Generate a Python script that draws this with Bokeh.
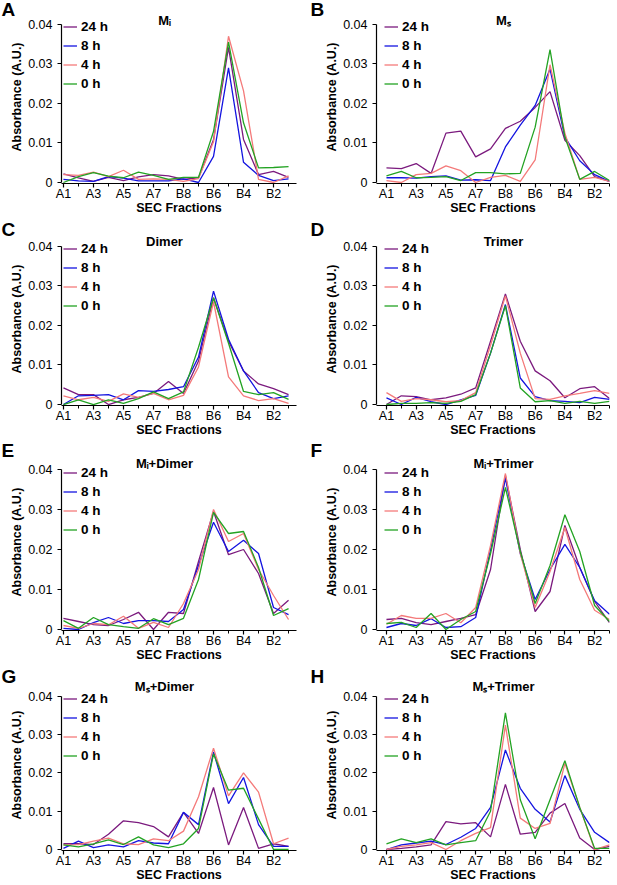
from bokeh.plotting import figure
from bokeh.layouts import column, row
from bokeh.models import Range1d, FixedTicker, Label, Legend, LegendItem
from bokeh.embed import file_html
from bokeh.resources import INLINE

# ---------------- data ----------------
fractions = ["A1", "A2", "A3", "A4", "A5", "A6", "A7", "A8",
             "B8", "B7", "B6", "B5", "B4", "B3", "B2", "B1"]
x_index = list(range(len(fractions)))
tick_positions = [0, 2, 4, 6, 8, 10, 12, 14]
tick_labels = [fractions[i] for i in tick_positions]
y_ticks = [0, 0.01, 0.02, 0.03, 0.04]
y_tick_labels = ["0", "0.01", "0.02", "0.03", "0.04"]

series_names = ["24 h", "8 h", "4 h", "0 h"]
series_colors = ["#7B1A7E", "#1414E0", "#F47A7A", "#23A323"]

panel_letters = ["A", "B", "C", "D", "E", "F", "G", "H"]
panel_titles = ["M\u1d62", "M\u209b", "Dimer", "Trimer",
                "M\u1d62+Dimer", "M\u1d62+Trimer", "M\u209b+Dimer", "M\u209b+Trimer"]

Mi_24h = [0.0022, 0.0012, 0.0003, 0.0013, 0.0005, 0.0014, 0.0020, 0.0017, 0.0008, 0.0012, 0.0108, 0.0342, 0.0109, 0.0020, 0.0028, 0.0013]
Mi_8h = [0.0008, 0.0004, 0.0003, 0.0015, 0.0011, 0.0004, 0.0004, 0.0004, 0.0009, 0.0000, 0.0066, 0.0290, 0.0051, 0.0018, 0.0005, 0.0009]
Mi_4h = [0.0020, 0.0018, 0.0026, 0.0015, 0.0031, 0.0008, 0.0009, 0.0008, 0.0003, 0.0010, 0.0103, 0.0370, 0.0232, 0.0008, 0.0000, 0.0017]
Mi_0h = [0.0000, 0.0015, 0.0025, 0.0016, 0.0012, 0.0026, 0.0018, 0.0008, 0.0013, 0.0013, 0.0129, 0.0355, 0.0151, 0.0037, 0.0038, 0.0040]

Ms_24h = [0.0037, 0.0035, 0.0048, 0.0023, 0.0125, 0.0130, 0.0065, 0.0085, 0.0137, 0.0155, 0.0190, 0.0230, 0.0107, 0.0068, 0.0015, 0.0003]
Ms_8h = [0.0012, 0.0012, 0.0011, 0.0015, 0.0017, 0.0006, 0.0007, 0.0005, 0.0090, 0.0145, 0.0195, 0.0287, 0.0115, 0.0055, 0.0020, 0.0003]
Ms_4h = [0.0005, 0.0000, 0.0020, 0.0023, 0.0042, 0.0030, 0.0000, 0.0013, 0.0018, 0.0003, 0.0057, 0.0298, 0.0125, 0.0008, 0.0013, 0.0003]
Ms_0h = [0.0017, 0.0028, 0.0012, 0.0013, 0.0015, 0.0005, 0.0025, 0.0025, 0.0022, 0.0023, 0.0140, 0.0336, 0.0115, 0.0008, 0.0028, 0.0005]

Dimer_24h = [0.0042, 0.0025, 0.0025, 0.0000, 0.0012, 0.0018, 0.0028, 0.0058, 0.0028, 0.0110, 0.0270, 0.0160, 0.0085, 0.0052, 0.0040, 0.0025]
Dimer_8h = [0.0000, 0.0022, 0.0023, 0.0025, 0.0012, 0.0035, 0.0033, 0.0038, 0.0045, 0.0120, 0.0287, 0.0165, 0.0085, 0.0030, 0.0015, 0.0022]
Dimer_4h = [0.0022, 0.0012, 0.0018, 0.0008, 0.0027, 0.0018, 0.0028, 0.0012, 0.0023, 0.0095, 0.0260, 0.0070, 0.0022, 0.0010, 0.0015, 0.0003]
Dimer_0h = [0.0000, 0.0012, 0.0000, 0.0012, 0.0003, 0.0015, 0.0032, 0.0015, 0.0032, 0.0145, 0.0270, 0.0155, 0.0033, 0.0025, 0.0030, 0.0013]

Trimer_24h = [0.0000, 0.0022, 0.0020, 0.0012, 0.0017, 0.0026, 0.0042, 0.0160, 0.0280, 0.0160, 0.0085, 0.0060, 0.0017, 0.0040, 0.0045, 0.0015]
Trimer_8h = [0.0017, 0.0000, 0.0018, 0.0007, 0.0000, 0.0012, 0.0023, 0.0130, 0.0253, 0.0067, 0.0020, 0.0010, 0.0008, 0.0005, 0.0018, 0.0013]
Trimer_4h = [0.0030, 0.0008, 0.0015, 0.0012, 0.0007, 0.0010, 0.0030, 0.0150, 0.0275, 0.0130, 0.0015, 0.0013, 0.0022, 0.0028, 0.0035, 0.0028]
Trimer_0h = [0.0000, 0.0003, 0.0003, 0.0005, 0.0003, 0.0008, 0.0025, 0.0130, 0.0250, 0.0042, 0.0007, 0.0010, 0.0003, 0.0008, 0.0003, 0.0008]

MiDimer_24h = [0.0028, 0.0020, 0.0012, 0.0010, 0.0025, 0.0043, 0.0000, 0.0043, 0.0040, 0.0170, 0.0295, 0.0187, 0.0200, 0.0140, 0.0040, 0.0073]
MiDimer_8h = [0.0003, 0.0000, 0.0017, 0.0030, 0.0015, 0.0022, 0.0022, 0.0020, 0.0050, 0.0160, 0.0268, 0.0195, 0.0223, 0.0190, 0.0055, 0.0037]
MiDimer_4h = [0.0010, 0.0003, 0.0015, 0.0012, 0.0033, 0.0003, 0.0018, 0.0005, 0.0065, 0.0150, 0.0300, 0.0220, 0.0240, 0.0150, 0.0085, 0.0025]
MiDimer_0h = [0.0022, 0.0003, 0.0030, 0.0012, 0.0007, 0.0003, 0.0027, 0.0012, 0.0028, 0.0125, 0.0293, 0.0240, 0.0245, 0.0155, 0.0035, 0.0052]

MiTrimer_24h = [0.0025, 0.0028, 0.0017, 0.0012, 0.0020, 0.0028, 0.0037, 0.0150, 0.0385, 0.0200, 0.0045, 0.0095, 0.0260, 0.0155, 0.0070, 0.0017]
MiTrimer_8h = [0.0005, 0.0015, 0.0010, 0.0027, 0.0005, 0.0007, 0.0030, 0.0200, 0.0378, 0.0190, 0.0075, 0.0150, 0.0213, 0.0155, 0.0072, 0.0038]
MiTrimer_4h = [0.0013, 0.0035, 0.0028, 0.0028, 0.0040, 0.0017, 0.0055, 0.0210, 0.0390, 0.0190, 0.0055, 0.0145, 0.0255, 0.0125, 0.0048, 0.0025]
MiTrimer_0h = [0.0015, 0.0018, 0.0005, 0.0040, 0.0000, 0.0025, 0.0045, 0.0190, 0.0355, 0.0195, 0.0065, 0.0160, 0.0287, 0.0195, 0.0060, 0.0020]

MsDimer_24h = [0.0015, 0.0015, 0.0013, 0.0040, 0.0075, 0.0070, 0.0060, 0.0033, 0.0097, 0.0042, 0.0162, 0.0012, 0.0110, 0.0003, 0.0015, 0.0008]
MsDimer_8h = [0.0003, 0.0022, 0.0005, 0.0012, 0.0007, 0.0023, 0.0017, 0.0015, 0.0097, 0.0065, 0.0255, 0.0120, 0.0188, 0.0065, 0.0008, 0.0008]
MsDimer_4h = [0.0012, 0.0013, 0.0022, 0.0030, 0.0015, 0.0013, 0.0028, 0.0023, 0.0048, 0.0138, 0.0265, 0.0140, 0.0200, 0.0150, 0.0015, 0.0030]
MsDimer_0h = [0.0012, 0.0007, 0.0015, 0.0025, 0.0013, 0.0033, 0.0012, 0.0005, 0.0015, 0.0055, 0.0250, 0.0155, 0.0160, 0.0080, 0.0000, 0.0000]

MsTrimer_24h = [0.0000, 0.0003, 0.0007, 0.0012, 0.0073, 0.0067, 0.0070, 0.0033, 0.0170, 0.0040, 0.0045, 0.0095, 0.0120, 0.0030, 0.0000, 0.0008]
MsTrimer_8h = [0.0000, 0.0012, 0.0017, 0.0022, 0.0013, 0.0032, 0.0055, 0.0110, 0.0260, 0.0160, 0.0105, 0.0072, 0.0193, 0.0105, 0.0045, 0.0018]
MsTrimer_4h = [0.0000, 0.0008, 0.0012, 0.0018, 0.0000, 0.0023, 0.0042, 0.0057, 0.0325, 0.0082, 0.0055, 0.0068, 0.0225, 0.0110, 0.0000, 0.0012]
MsTrimer_0h = [0.0015, 0.0028, 0.0018, 0.0028, 0.0012, 0.0018, 0.0023, 0.0100, 0.0357, 0.0130, 0.0028, 0.0130, 0.0232, 0.0110, 0.0003, 0.0003]

panel_series = [
    [Mi_24h, Mi_8h, Mi_4h, Mi_0h],
    [Ms_24h, Ms_8h, Ms_4h, Ms_0h],
    [Dimer_24h, Dimer_8h, Dimer_4h, Dimer_0h],
    [Trimer_24h, Trimer_8h, Trimer_4h, Trimer_0h],
    [MiDimer_24h, MiDimer_8h, MiDimer_4h, MiDimer_0h],
    [MiTrimer_24h, MiTrimer_8h, MiTrimer_4h, MiTrimer_0h],
    [MsDimer_24h, MsDimer_8h, MsDimer_4h, MsDimer_0h],
    [MsTrimer_24h, MsTrimer_8h, MsTrimer_4h, MsTrimer_0h],
]

# ---------------- layout / styling ----------------
FONT = "Liberation Sans"
ROW_EXT = [14, 14, 16, 17]          # frame px above the 0.04 line
ROW_T = [10, 15, 14, 14]            # top border per row
ROW_P0 = [159, 159, 160, 154]       # px from 0 to 0.04 per row
ROW_B = [33, 33, 35, 33]            # bottom border per row
ROW_LETTER_STANDOFF = [-19, -14, -14, -15]
TITLE_DY = [3.5, 4, 6, 9]           # panel title centre above the 0.04 line
COL_W = [305, 311]
COL_BL = [61, 71]
COL_FW = [235, 233]
COL_XR = [(-0.13, 15.53), (-0.67, 15.0)]
COL_TITLE_X = [103, 127]
COL_LETTER_OFF = [-60, -66]
COL_LEG_X = [2, 8]
LEG_DY = -68.5


def make_panel(k):
    c = k % 2
    r = k // 2
    T, P0, B, EXT = ROW_T[r], ROW_P0[r], ROW_B[r], ROW_EXT[r]
    ppu = P0 / 0.04
    FH = P0 + 1 + EXT
    H = T + FH + B
    W = COL_W[c]
    BL = COL_BL[c]
    BR = W - BL - COL_FW[c]
    p = figure(width=W, height=H,
               x_range=Range1d(*COL_XR[c]),
               y_range=Range1d(-1.0 / ppu, 0.04 + EXT / ppu),
               output_backend="svg", toolbar_location=None,
               min_border_left=BL, min_border_right=BR,
               min_border_top=T, min_border_bottom=B)
    p.outline_line_color = None
    p.xgrid.visible = False
    p.ygrid.visible = False
    p.background_fill_color = "white"
    p.border_fill_color = "white"

    # panel letter as the figure title, pushed into the top-left corner
    p.title.text = panel_letters[k]
    p.title.align = "left"
    p.title.offset = COL_LETTER_OFF[c]
    p.title.standoff = ROW_LETTER_STANDOFF[r]
    p.title.text_font = FONT
    p.title.text_font_style = "bold"
    p.title.text_font_size = "19px"
    p.title.text_color = "black"

    xa = p.xaxis[0]
    ya = p.yaxis[0]
    xa.ticker = FixedTicker(ticks=tick_positions, minor_ticks=x_index)
    xa.major_label_overrides = dict(zip(tick_positions, tick_labels))
    ya.ticker = FixedTicker(ticks=y_ticks)
    ya.major_label_overrides = dict(zip(y_ticks, y_tick_labels))
    ya.bounds = (0, 0.04)
    for ax in (xa, ya):
        ax.axis_line_color = "black"
        ax.axis_line_width = 1.2
        ax.major_tick_line_color = "black"
        ax.major_tick_line_width = 1.2
        ax.minor_tick_line_color = "black"
        ax.minor_tick_line_width = 1.0
        ax.major_tick_in = 0
        ax.major_tick_out = 4
        ax.minor_tick_in = 0
        ax.major_label_text_font = FONT
        ax.major_label_text_font_size = "12.5px"
        ax.major_label_text_color = "black"
        ax.axis_label_text_font = FONT
        ax.axis_label_text_font_style = "bold"
        ax.axis_label_text_font_size = "12.5px"
        ax.axis_label_text_color = "black"
    xa.minor_tick_out = 3
    ya.minor_tick_out = 0
    xa.major_label_standoff = -1
    xa.axis_label_standoff = -3
    ya.major_label_standoff = 5
    ya.axis_label_standoff = 1
    xa.axis_label = "SEC Fractions"
    ya.axis_label = "Absorbance (A.U.)"

    items = []
    for name, color, vals in zip(series_names, series_colors, panel_series[k]):
        rr = p.line(x_index, vals, line_color=color, line_width=1.3)
        items.append(LegendItem(label=name, renderers=[rr]))
    y04 = P0 + 1
    legend = Legend(items=items, location=(COL_LEG_X[c], y04 + LEG_DY),
                    label_text_font=FONT, label_text_font_style="bold",
                    label_text_font_size="13.5px", label_text_color="black",
                    glyph_width=14, glyph_height=17, label_height=17,
                    label_standoff=4, spacing=2, padding=0, margin=0,
                    border_line_color=None, background_fill_alpha=0)
    p.add_layout(legend)

    p.add_layout(Label(x=COL_TITLE_X[c], y=y04 + TITLE_DY[r], x_units="screen", y_units="screen",
                       text=panel_titles[k], text_align="center", text_baseline="middle",
                       text_font=FONT, text_font_style="bold", text_font_size="13px",
                       text_color="black"))
    return p


panels = [make_panel(k) for k in range(8)]
layout = column(*[row(panels[2 * r], panels[2 * r + 1]) for r in range(4)])

open("out.html", "w").write(file_html(layout, INLINE))
